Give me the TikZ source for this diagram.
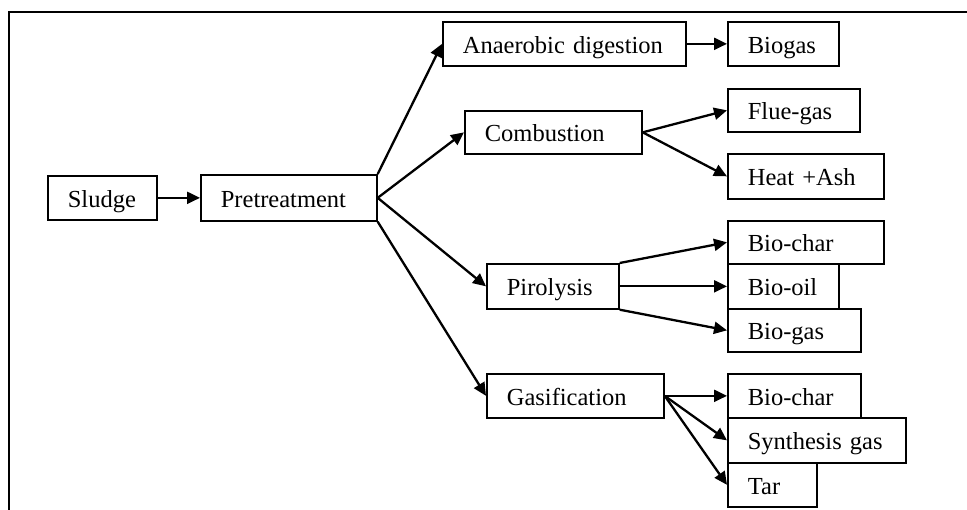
\documentclass[tikz,border=0pt]{standalone}
\usepackage{fontspec}
\setmainfont{Liberation Serif}
\usetikzlibrary{arrows.meta}
\begin{document}
\begin{tikzpicture}[x=1pt,y=-1pt,
  bx/.style={draw, line width=1.7pt, anchor=north west, inner xsep=20pt, inner ysep=0pt,
    text height=19pt, text depth=0pt,
    align=left, font=\fontsize{24.5}{28}\selectfont},
  arr/.style={line width=2.3pt, -{Triangle[length=13pt,width=12pt]}}]
\useasboundingbox (0,0) rectangle (967,510);
\fill[white] (0,0) rectangle (967,510);
\draw[line width=2.2pt] (9,515) -- (9,12) -- (972,12);
\newcommand{\bxnode}[7]{\node[bx, text width=#5pt-40pt, minimum height=#6pt] (#1) at (#3,#4) {#7};}
\bxnode{sl}{}{47}{175}{109}{44}{Sludge}
\bxnode{pre}{}{200}{174}{176}{46}{Pretreatment}
\bxnode{ad}{}{442}{21}{243}{44}{Anaerobic digestion}
\bxnode{bg}{}{727}{21}{111}{44}{Biogas}
\bxnode{comb}{}{464}{110}{177}{43}{Combustion}
\bxnode{flue}{}{727}{88}{132}{43}{Flue-gas}
\bxnode{heat}{}{727}{153}{156}{45}{Heat +Ash}
\bxnode{bca}{}{727}{220}{156}{43}{Bio-char}
\bxnode{pir}{}{486}{263}{132}{45}{Pirolysis}
\bxnode{oil}{}{727}{263}{111}{45}{Bio-oil}
\bxnode{bgb}{}{727}{308}{133}{43}{Bio-gas}
\bxnode{gas}{}{486}{373}{177}{44}{Gasification}
\bxnode{bcb}{}{727}{373}{133}{44}{Bio-char}
\bxnode{syn}{}{727}{417}{178}{45}{Synthesis gas}
\bxnode{tar}{}{727}{462}{89}{44}{Tar}
\draw[arr] (sl.east) -- (pre.west);
\draw[arr] (pre.north east) -- (ad.west);
\draw[arr] (pre.east) -- (comb.west);
\draw[arr] (pre.east) -- (pir.west);
\draw[arr] (pre.south east) -- (gas.west);
\draw[arr] (ad.east) -- (bg.west);
\draw[arr] (comb.east) -- (flue.west);
\draw[arr] (comb.east) -- (heat.west);
\draw[arr] (pir.north east) -- (bca.west);
\draw[arr] (pir.east) -- (oil.west);
\draw[arr] (pir.south east) -- (bgb.west);
\draw[arr] (gas.east) -- (bcb.west);
\draw[arr] (gas.east) -- (syn.west);
\draw[arr] (gas.east) -- (tar.west);
\end{tikzpicture}
\end{document}
